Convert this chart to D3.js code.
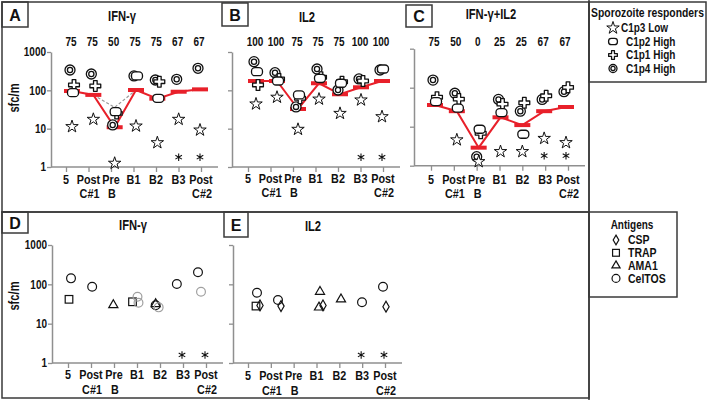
<!DOCTYPE html>
<html><head><meta charset="utf-8">
<script src="https://cdn.jsdelivr.net/npm/d3@7"></script>
<style>
body{margin:0;background:#fff}
svg text{font-family:"Liberation Sans",Arial,sans-serif;font-weight:bold;fill:#111}
</style>
</head><body>
<svg id="c" width="708" height="400"></svg>
<script>
// ---------- DATA ----------
const categories = ["5","Post","Pre","B1","B2","B3","Post"];
const categoriesLine2 = ["","C#1","B","","","","C#2"];
const yTicks = [1,10,100,1000];
const yLabel = "sfc/m";

// Panel A: IFN-γ (sporozoite responders)
const aPercent = [75,75,50,75,75,67,67];
const aC1p3 = [11.3,17.5,1.25,11.7,4.3,17.5,9.2];
const aC1p2 = [87,null,27.7,237,62,null,null];
const aC1p1 = [138,130,25,null,168,null,null];
const aC1p4 = [339,267,12.5,237,186,194,376];
const aMedian = [96,76,10.9,102,60.5,92,106];
const aDashed = [null,76,36,102,null,null,null];
const aAsterisk = [false,false,false,false,false,true,true];

// Panel B: IL2
const bPercent = [100,100,75,75,75,100,100];
const bC1p3 = [44,66,9.6,59,25,56,20.5];
const bC1p2 = [306,175,76,206,153,null,360];
const bC1p1 = [138,198,62,219,168,175,null];
const bC1p4 = [559,288,37,360,102,198,339];
const bMedian = [175,175,32.6,153,79,120,175];
const bAsterisk = [false,false,false,false,false,true,true];

// Panel C: IFN-γ+IL2
const cPercent = [75,50,0,25,25,67,67];
const cC1p3 = [null,4.6,1.27,2.3,2.3,5,3.9];
const cC1p2 = [44,30,8.6,23,6.4,null,null];
const cC1p1 = [57,51,6.8,38,41,62,102];
const cC1p4 = [157,72,1.7,50,25,50,79];
const cMedian = [36,25,2.9,17.4,11,25,32];
const cAsterisk = [false,false,false,false,false,true,true];

// Panel D: IFN-γ (antigens)
const dCSP = [null,null,null,null,null,null,null];
const dTRAP = [41.6,null,null,36,null,null,null];
const dAMA1 = [null,null,29.8,null,31.6,null,null];
const dCelTOS = [142,87,null,null,29.3,102,202];
const dCelTOSgray = [null,null,null,48.5,26,null,65];
const dCelTOSgray2 = [null,null,null,34,null,null,null];
const dAsterisk = [false,false,false,false,false,true,true];

// Panel E: IL2 (antigens)
const eCSP = [29,28,null,29,null,null,27];
const eTRAP = [28,null,null,null,null,null,null];
const eAMA1 = [null,null,null,65,41.6,null,null];
const eAMA1b = [null,null,null,26,null,null,null];
const eCelTOS = [61,40,null,null,null,35,87];
const eAsterisk = [false,false,false,false,false,true,true];

const sporoLegend = [["star","C1p3 Low"],["oval","C1p2 High"],["cross","C1p1 High"],["target","C1p4 High"]];
const antigenLegend = [["diamond","CSP"],["square","TRAP"],["triangle","AMA1"],["circle","CelTOS"]];

// ---------- DRAWING ----------
const svg = d3.select("#c");
const RED = "#e8202a", AX = "#8f8f8f", FR = "#3a3a3a";
const SX = 0.8; // narrow-face emulation

function rect(x,y,w,h,sw){
  svg.append("rect").attr("x",x).attr("y",y).attr("width",w).attr("height",h)
    .attr("fill","none").attr("stroke",FR).attr("stroke-width",sw||1.5);
}
function text(g,x,y,s,size,anchor,rot,sx){
  return g.append("text").attr("x",0).attr("y",0)
    .attr("transform",`translate(${x},${y})${rot?` rotate(${rot})`:""} scale(${sx||SX},1)`)
    .attr("font-size",size).attr("text-anchor",anchor||"middle").attr("dominant-baseline","central").text(s);
}

function marker(g,type,x,y,k){
  k = k||1;
  const tr = `translate(${x},${y})`;
  const sym = (t,s)=>g.append("path").attr("d",d3.symbol(t,s*k*k)()).attr("transform",tr);
  switch(type){
    case "star":
      sym(d3.symbolStar,48).attr("fill","#fff").attr("stroke","#111").attr("stroke-width",1);break;
    case "target":
      g.append("circle").attr("cx",x).attr("cy",y).attr("r",5*k).attr("fill","#fff").attr("stroke","#111").attr("stroke-width",1.3);
      g.append("circle").attr("cx",x).attr("cy",y).attr("r",2.6*k).attr("fill","none").attr("stroke","#111").attr("stroke-width",1.3);break;
    case "oval":
      g.append("rect").attr("x",x-5.5*k).attr("y",y-4*k).attr("width",11*k).attr("height",8*k).attr("rx",3.5*k)
        .attr("fill","#fff").attr("stroke","#111").attr("stroke-width",1.3);break;
    case "cross":
      sym(d3.symbolCross,65).attr("fill","#fff").attr("stroke","#111").attr("stroke-width",1.3).attr("stroke-linejoin","round");break;
    case "circle":
      g.append("circle").attr("cx",x).attr("cy",y).attr("r",4.4*k).attr("fill","none").attr("stroke","#111").attr("stroke-width",1.2);break;
    case "graycircle":
      g.append("circle").attr("cx",x).attr("cy",y).attr("r",4.4*k).attr("fill","none").attr("stroke","#a0a0a0").attr("stroke-width",1.2);break;
    case "square":
      g.append("rect").attr("x",x-3.8*k).attr("y",y-3.8*k).attr("width",7.6*k).attr("height",7.6*k)
        .attr("fill","none").attr("stroke","#111").attr("stroke-width",1.2);break;
    case "triangle":
      sym(d3.symbolTriangle,36).attr("fill","none").attr("stroke","#111").attr("stroke-width",1.2);break;
    case "diamond":
      sym(d3.symbolDiamond,34).attr("fill","none").attr("stroke","#111").attr("stroke-width",1.2);break;
  }
}

function axes(g,cfg,y,xl){
  // y axis
  const ya = g.append("g").attr("transform",`translate(${cfg.axisX},0)`)
    .call(d3.axisLeft(y).tickValues(yTicks).tickSize(4).tickSizeOuter(0).tickFormat(""));
  ya.select(".domain").attr("stroke",AX).attr("stroke-width",1.5);
  ya.selectAll(".tick line").attr("stroke",AX).attr("stroke-width",1.3);
  if(cfg.showY){
    yTicks.forEach(t=>text(g,cfg.axisX-5,y(t),d3.format("d")(t),12.5,"end"));
    text(g,15,cfg.yLabY,yLabel,14,"middle",-90);
  }
  // x axis
  const y0 = y(1);
  g.append("line").attr("x1",cfg.axisX).attr("x2",cfg.labelRange[1]+17).attr("y1",y0).attr("y2",y0)
    .attr("stroke",AX).attr("stroke-width",1.5);
  const xa = g.append("g").attr("transform",`translate(0,${y0})`)
    .call(d3.axisBottom(xl).tickSize(5).tickSizeOuter(0).tickFormat(()=>""));
  xa.select(".domain").remove();
  xa.selectAll(".tick line").attr("stroke",AX).attr("stroke-width",1.3);
  categories.forEach((c,i)=>{
    text(g,xl(i),cfg.lab1Y,c,13.5);
    if(categoriesLine2[i]) text(g,xl(i)+1,cfg.lab2Y,categoriesLine2[i],13.5);
  });
}

function letterBox(cfg){
  rect(...cfg.box,1.5);
  text(svg,cfg.box[0]+cfg.box[2]/2,cfg.box[1]+cfg.box[3]/2+0.5,cfg.letter,16,"middle",0,1);
  text(svg,cfg.titleXY[0],cfg.titleXY[1],cfg.title,14);
}

const idx = d3.range(categories.length);

// ---- top panels ----
const topPanels = [
  {letter:"A",title:"IFN-γ",pct:aPercent,C1p3:aC1p3,C1p2:aC1p2,C1p1:aC1p1,C1p4:aC1p4,median:aMedian,dashed:aDashed,ast:aAsterisk,
   box:[2,2,26,25],titleXY:[122,17],axisX:51,yRange:[167,52],labelRange:[66,201],dataRange:[72,200],showY:true,
   lab1Y:180,lab2Y:194,yLabY:98},
  {letter:"B",title:"IL2",pct:bPercent,C1p3:bC1p3,C1p2:bC1p2,C1p1:bC1p1,C1p4:bC1p4,median:bMedian,dashed:null,ast:bAsterisk,
   box:[222,3,26,23],titleXY:[307,18],axisX:232,yRange:[167,52],labelRange:[248,383],dataRange:[256,382],showY:false,
   lab1Y:179,lab2Y:193},
  {letter:"C",title:"IFN-γ+IL2",pct:cPercent,C1p3:cC1p3,C1p2:cC1p2,C1p1:cC1p1,C1p4:cC1p4,median:cMedian,dashed:null,ast:cAsterisk,
   box:[406,5,26,22],titleXY:[491,15],axisX:414,yRange:[165.7,48.7],labelRange:[431,568],dataRange:[435,566],showY:false,
   lab1Y:180,lab2Y:194}
];
const seriesOffsets = {C1p4:-2,C1p1:2,C1p2:1,C1p3:0};
const seriesShape = {C1p4:"target",C1p1:"cross",C1p2:"oval",C1p3:"star"};

topPanels.forEach(cfg=>{
  const g = svg.append("g");
  const y = d3.scaleLog().domain([1,1000]).range(cfg.yRange);
  const xl = d3.scalePoint().domain(idx).range(cfg.labelRange);
  const xd = d3.scalePoint().domain(idx).range(cfg.dataRange);
  axes(g,cfg,y,xl);
  letterBox(cfg);
  cfg.pct.forEach((p,i)=>text(g,xd(i)-1,41.5,p,13.5,"middle",0,0.74));
  if(cfg.dashed){
    const dl = d3.line().defined(d=>d[1]!=null).x(d=>xd(d[0])).y(d=>y(d[1]));
    g.append("path").attr("d",dl(cfg.dashed.map((v,i)=>[i,v]))).attr("fill","none")
      .attr("stroke","#9a9a9a").attr("stroke-width",1.2).attr("stroke-dasharray","3,2");
  }
  const ml = d3.line().x((d,i)=>xd(i)).y(d=>y(d));
  g.append("path").attr("d",ml(cfg.median)).attr("fill","none").attr("stroke",RED).attr("stroke-width",2);
  cfg.median.forEach((v,i)=>g.append("rect").attr("x",xd(i)-8).attr("y",y(v)-2).attr("width",16).attr("height",4).attr("fill",RED));
  ["C1p4","C1p1","C1p2","C1p3"].forEach(s=>{
    cfg[s].forEach((v,i)=>{ if(v!=null) marker(g,seriesShape[s],xd(i)+seriesOffsets[s],y(v)); });
  });
  cfg.ast.forEach((a,i)=>{ if(a) g.append("path").attr("d",d3.symbol(d3.symbolAsterisk,40)())
    .attr("transform",`translate(${xd(i)},${y(1.8)})`).attr("stroke","#111").attr("stroke-width",1.1); });
});

// ---- bottom panels ----
const botPanels = [
  {letter:"D",title:"IFN-γ",series:[["square",dTRAP,-2],["triangle",dAMA1,0],["circle",dCelTOS,0],["graycircle",dCelTOSgray,3],["graycircle",dCelTOSgray2,4],["diamond",dCSP,2]],ast:dAsterisk,
   box:[2,212,26,21],titleXY:[133,226],axisX:52,yRange:[363,245],labelRange:[68,206],dataRange:[71,198],showY:true,
   lab1Y:375,lab2Y:389.5,yLabY:296},
  {letter:"E",title:"IL2",series:[["square",eTRAP,-1],["triangle",eAMA1,0],["triangle",eAMA1b,-1],["circle",eCelTOS,0],["diamond",eCSP,3]],ast:eAsterisk,
   box:[224,212,24,25],titleXY:[313,227],axisX:233,yRange:[363,245],labelRange:[248,385],dataRange:[257,383],showY:false,
   lab1Y:376,lab2Y:391}
];
botPanels.forEach(cfg=>{
  const g = svg.append("g");
  const y = d3.scaleLog().domain([1,1000]).range(cfg.yRange);
  const xl = d3.scalePoint().domain(idx).range(cfg.labelRange);
  const xd = d3.scalePoint().domain(idx).range(cfg.dataRange);
  axes(g,cfg,y,xl);
  letterBox(cfg);
  cfg.series.forEach(([shape,vals,dx])=>{
    vals.forEach((v,i)=>{ if(v!=null) marker(g,shape,xd(i)+dx,y(v)); });
  });
  cfg.ast.forEach((a,i)=>{ if(a) g.append("path").attr("d",d3.symbol(d3.symbolAsterisk,40)())
    .attr("transform",`translate(${xl(i)-1},${y(1.6)})`).attr("stroke","#111").attr("stroke-width",1.1); });
});

// ---- frames ----
rect(2,2,587,210);
rect(2,212,587,186);
svg.append("line").attr("x1",589).attr("x2",589).attr("y1",0).attr("y2",400).attr("stroke",FR).attr("stroke-width",1.5);
rect(589,2,117,80);
rect(589,212,88,85);

// ---- legends ----
const lg1 = svg.append("g");
text(lg1,647.5,13,"Sporozoite responders",12.5,"middle",0,0.83);
sporoLegend.forEach(([shape,label],i)=>{
  const yy = 28+i*13.5;
  marker(lg1,shape,613,yy,shape==="star"?1:0.8);
  text(lg1,i===0?621:626,yy,label,12.5,"start");
});
const lg2 = svg.append("g");
text(lg2,632,225,"Antigens",12.5);
antigenLegend.forEach(([shape,label],i)=>{
  const yy = 240+i*12.8;
  marker(lg2,shape,616,yy,0.9);
  text(lg2,628,yy,label,12.5,"start",0,0.84);
});
</script>
</body></html>
